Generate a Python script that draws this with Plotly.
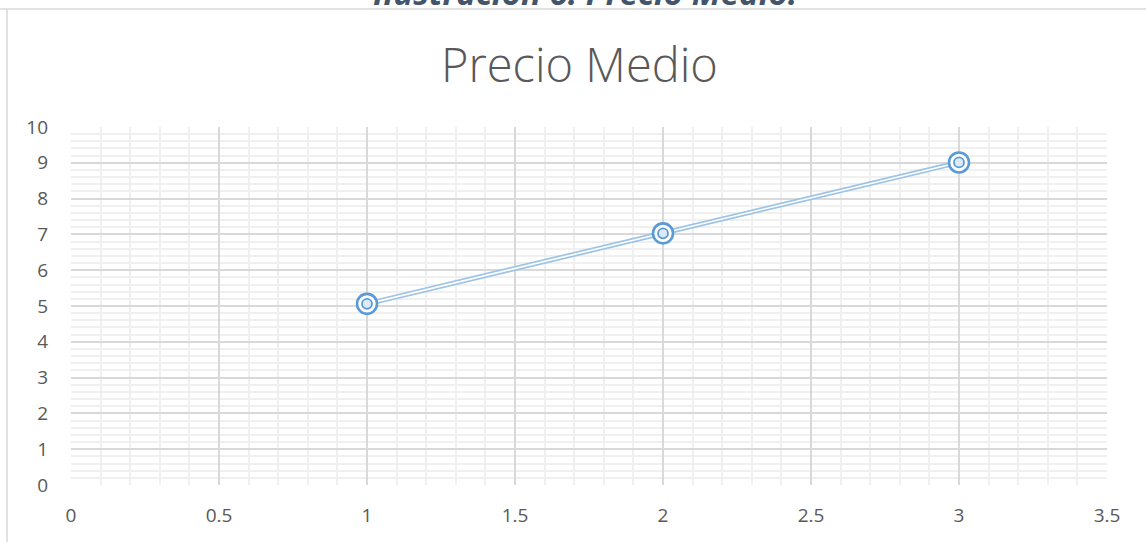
import plotly.graph_objects as go

x_vals = [1, 2, 3]
y_vals = [5.06, 7.03, 9.01]
title_text = "Precio Medio"
caption_text = "Ilustración 6: Precio Medio."

W, H = 1146, 542
L, R, T, B = 71, 39, 127, 57
pw, ph = W - L - R, H - T - B

def px(xp):
    return (xp - L) / pw

def py(yp):
    return (H - B - yp) / ph

blue = "#5B9BD5"
light = "#9DC3E6"
FONT = "Open Sans, Lato, sans-serif"

fig = go.Figure()
# double line: wide light line with white core
fig.add_trace(go.Scatter(x=x_vals, y=y_vals, mode="lines",
                         line=dict(color=light, width=5), hoverinfo="skip"))
fig.add_trace(go.Scatter(x=x_vals, y=y_vals, mode="lines",
                         line=dict(color="white", width=1.6), hoverinfo="skip"))
# double-ring markers
fig.add_trace(go.Scatter(x=x_vals, y=y_vals, mode="markers",
                         marker=dict(symbol="circle", size=20, color="white",
                                     line=dict(color=blue, width=2.6))))
fig.add_trace(go.Scatter(x=x_vals, y=y_vals, mode="markers",
                         marker=dict(symbol="circle", size=10, color="#DCE9F6",
                                     line=dict(color=blue, width=1.8))))

tickfont = dict(family=FONT, size=19, color="#595959")

fig.update_layout(
    width=W, height=H,
    margin=dict(l=L, r=R, t=T, b=B),
    paper_bgcolor="white", plot_bgcolor="white",
    showlegend=False,
    xaxis=dict(range=[0, 3.5], dtick=0.5, tick0=0, showgrid=True,
               gridcolor="#D9D9D9", gridwidth=1.6, zeroline=False,
               showline=False, ticks="", tickfont=tickfont,
               ticklabelstandoff=17,
               minor=dict(dtick=0.1, showgrid=True, gridcolor="#F0F0F0", gridwidth=1.6)),
    yaxis=dict(range=[0, 10], dtick=1, tick0=0, showgrid=True,
               gridcolor="#D9D9D9", gridwidth=1.6, zeroline=False,
               showline=False, ticks="", tickfont=tickfont,
               ticklabelstandoff=22,
               minor=dict(dtick=0.2, showgrid=True, gridcolor="#F0F0F0", gridwidth=1.6)),
    annotations=[
        dict(text=title_text, x=px(579), y=py(64), xref="paper", yref="paper",
             showarrow=False, xanchor="center", yanchor="middle",
             font=dict(family=FONT, size=47, color="#595959", weight=300)),
        dict(text="<b><i>" + caption_text + "</i></b>", x=px(585), y=py(17),
             xref="paper", yref="paper", showarrow=False,
             xanchor="center", yanchor="bottom",
             font=dict(family=FONT, size=33, color="#44546A")),
    ],
    shapes=[
        dict(type="line", xref="paper", yref="paper", x0=px(0), x1=px(W),
             y0=py(9), y1=py(9), line=dict(color="#D9D9D9", width=1.5)),
        dict(type="line", xref="paper", yref="paper", x0=px(7), x1=px(7),
             y0=py(9), y1=py(H + 5), line=dict(color="#D9D9D9", width=1.5)),
    ],
)

fig.write_html("out.html")
